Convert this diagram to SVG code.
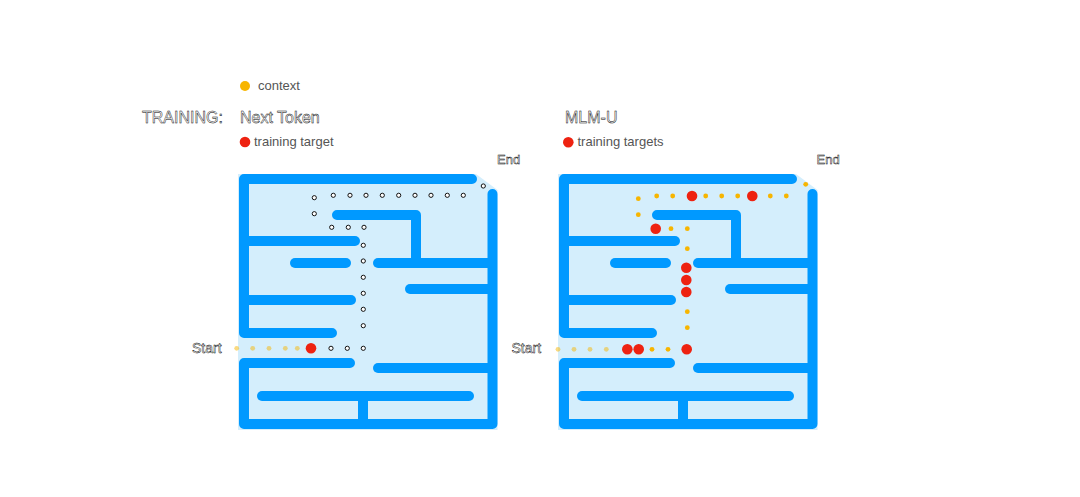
<svg xmlns="http://www.w3.org/2000/svg" width="1080" height="497" viewBox="0 0 1080 497">
<style>
.bg{fill:#d4eefc}
.wall{fill:none;stroke:#0099ff;stroke-width:10;stroke-linecap:round;stroke-linejoin:round}
.ctx{fill:#f7b500}
.fade{fill:#f7b500;opacity:0.5}
.tgt{fill:#ee2211}
.ring{fill:#fff;stroke:#111;stroke-width:1}
.out{font-family:"Liberation Sans",Arial,sans-serif;fill:#fff;stroke:#000;stroke-width:0.45}
.lbl{font-family:"Liberation Sans",Arial,sans-serif;font-size:13px;fill:#555}
</style>
<rect width="1080" height="497" fill="#fff"/>
<g id="legend">
<circle cx="245" cy="86" r="5" class="ctx"/>
<text x="258" y="90" class="lbl">context</text>
<text x="142" y="123" class="out" font-size="16">TRAINING:</text>
</g>
<g id="maze-next-token">
<text x="240" y="123" class="out" font-size="16">Next Token</text>
<circle cx="245" cy="142" r="5.3" class="tgt"/>
<text x="254" y="146" class="lbl">training target</text>
<polygon class="bg" points="238,174 476,174 497.5,190 497.5,430 238,430"/>
<g class="wall-group">
<path class="wall" d="M472,179 H244 V333 H332"/>
<path class="wall" d="M492.5,194 V424 H244 V363 H350"/>
<path class="wall" d="M337,215 H416 V263"/>
<path class="wall" d="M244,241 H355"/>
<path class="wall" d="M295,263 H346"/>
<path class="wall" d="M378,263 H488"/>
<path class="wall" d="M410,289 H492"/>
<path class="wall" d="M244,300 H351"/>
<path class="wall" d="M378,368 H492"/>
<path class="wall" d="M262,396 H469"/>
<path class="wall" d="M363,396 V424"/>
</g>
<g class="path-dots">
<circle cx="236.7" cy="348.3" r="2.4" class="fade"/>
<circle cx="252.7" cy="348.3" r="2.4" class="fade"/>
<circle cx="269" cy="348.3" r="2.4" class="fade"/>
<circle cx="285.3" cy="348.3" r="2.4" class="fade"/>
<circle cx="297.3" cy="348.3" r="2.4" class="fade"/>
<circle cx="311" cy="348.3" r="5.3" class="tgt"/>
<circle cx="331" cy="348.3" r="2.1" class="ring"/>
<circle cx="347.3" cy="348.3" r="2.1" class="ring"/>
<circle cx="363.3" cy="348.3" r="2.1" class="ring"/>
<circle cx="363.3" cy="325.7" r="2.1" class="ring"/>
<circle cx="363.3" cy="309.3" r="2.1" class="ring"/>
<circle cx="363.3" cy="293.3" r="2.1" class="ring"/>
<circle cx="363.3" cy="277.3" r="2.1" class="ring"/>
<circle cx="363.3" cy="261" r="2.1" class="ring"/>
<circle cx="363.3" cy="245.3" r="2.1" class="ring"/>
<circle cx="364" cy="227.3" r="2.1" class="ring"/>
<circle cx="348.3" cy="227.3" r="2.1" class="ring"/>
<circle cx="331.7" cy="227.3" r="2.1" class="ring"/>
<circle cx="314.3" cy="213.7" r="2.1" class="ring"/>
<circle cx="314.3" cy="197.7" r="2.1" class="ring"/>
<circle cx="333.3" cy="195.3" r="2.1" class="ring"/>
<circle cx="350" cy="195.3" r="2.1" class="ring"/>
<circle cx="366" cy="195.3" r="2.1" class="ring"/>
<circle cx="382.3" cy="195.3" r="2.1" class="ring"/>
<circle cx="398.7" cy="195.3" r="2.1" class="ring"/>
<circle cx="415" cy="195.3" r="2.1" class="ring"/>
<circle cx="431" cy="195.3" r="2.1" class="ring"/>
<circle cx="447.3" cy="195.3" r="2.1" class="ring"/>
<circle cx="463.3" cy="195.3" r="2.1" class="ring"/>
<circle cx="483.3" cy="186" r="2.1" class="ring"/>
</g>
<text x="192" y="352.7" class="out" font-size="14">Start</text>
<text x="497" y="164" class="out" font-size="13">End</text>
</g>
<g id="maze-mlm-u">
<text x="565" y="123" class="out" font-size="16">MLM-U</text>
<circle cx="568.3" cy="142.3" r="5.3" class="tgt"/>
<text x="577.5" y="146" class="lbl">training targets</text>
<polygon class="bg" points="558,174 796,174 817.5,190 817.5,430 558,430"/>
<g class="wall-group" transform="translate(320,0)">
<path class="wall" d="M472,179 H244 V333 H332"/>
<path class="wall" d="M492.5,194 V424 H244 V363 H350"/>
<path class="wall" d="M337,215 H416 V263"/>
<path class="wall" d="M244,241 H355"/>
<path class="wall" d="M295,263 H346"/>
<path class="wall" d="M378,263 H488"/>
<path class="wall" d="M410,289 H492"/>
<path class="wall" d="M244,300 H351"/>
<path class="wall" d="M378,368 H492"/>
<path class="wall" d="M262,396 H469"/>
<path class="wall" d="M363,396 V424"/>
</g>
<g class="path-dots">
<circle cx="558" cy="349.3" r="2.4" class="fade"/>
<circle cx="574" cy="349.3" r="2.4" class="fade"/>
<circle cx="590" cy="349.3" r="2.4" class="fade"/>
<circle cx="606.3" cy="349.3" r="2.4" class="fade"/>
<circle cx="627.3" cy="349.3" r="5.3" class="tgt"/>
<circle cx="638.7" cy="349.3" r="5.3" class="tgt"/>
<circle cx="652" cy="349.3" r="2.4" class="ctx"/>
<circle cx="668" cy="349.3" r="2.4" class="ctx"/>
<circle cx="686.7" cy="349.3" r="5.3" class="tgt"/>
<circle cx="687.3" cy="327.7" r="2.4" class="ctx"/>
<circle cx="687.3" cy="311.7" r="2.4" class="ctx"/>
<circle cx="686.3" cy="292" r="5.3" class="tgt"/>
<circle cx="686.3" cy="280" r="5.3" class="tgt"/>
<circle cx="686.3" cy="267.7" r="5.3" class="tgt"/>
<circle cx="687.3" cy="248.7" r="2.4" class="ctx"/>
<circle cx="687.3" cy="228.7" r="2.4" class="ctx"/>
<circle cx="671" cy="228.7" r="2.4" class="ctx"/>
<circle cx="655.7" cy="228.7" r="5.3" class="tgt"/>
<circle cx="638.3" cy="214.7" r="2.4" class="ctx"/>
<circle cx="638.3" cy="198.7" r="2.4" class="ctx"/>
<circle cx="656.7" cy="196" r="2.4" class="ctx"/>
<circle cx="672.7" cy="196" r="2.4" class="ctx"/>
<circle cx="692" cy="196" r="5.3" class="tgt"/>
<circle cx="705.7" cy="196" r="2.4" class="ctx"/>
<circle cx="721.7" cy="196" r="2.4" class="ctx"/>
<circle cx="737.7" cy="196" r="2.4" class="ctx"/>
<circle cx="752.3" cy="196" r="5.3" class="tgt"/>
<circle cx="770.3" cy="196" r="2.4" class="ctx"/>
<circle cx="786.3" cy="196" r="2.4" class="ctx"/>
<circle cx="805.7" cy="184.3" r="2.4" class="ctx"/>
</g>
<text x="511.5" y="352.7" class="out" font-size="14">Start</text>
<text x="816.5" y="164" class="out" font-size="13">End</text>
</g>
</svg>
